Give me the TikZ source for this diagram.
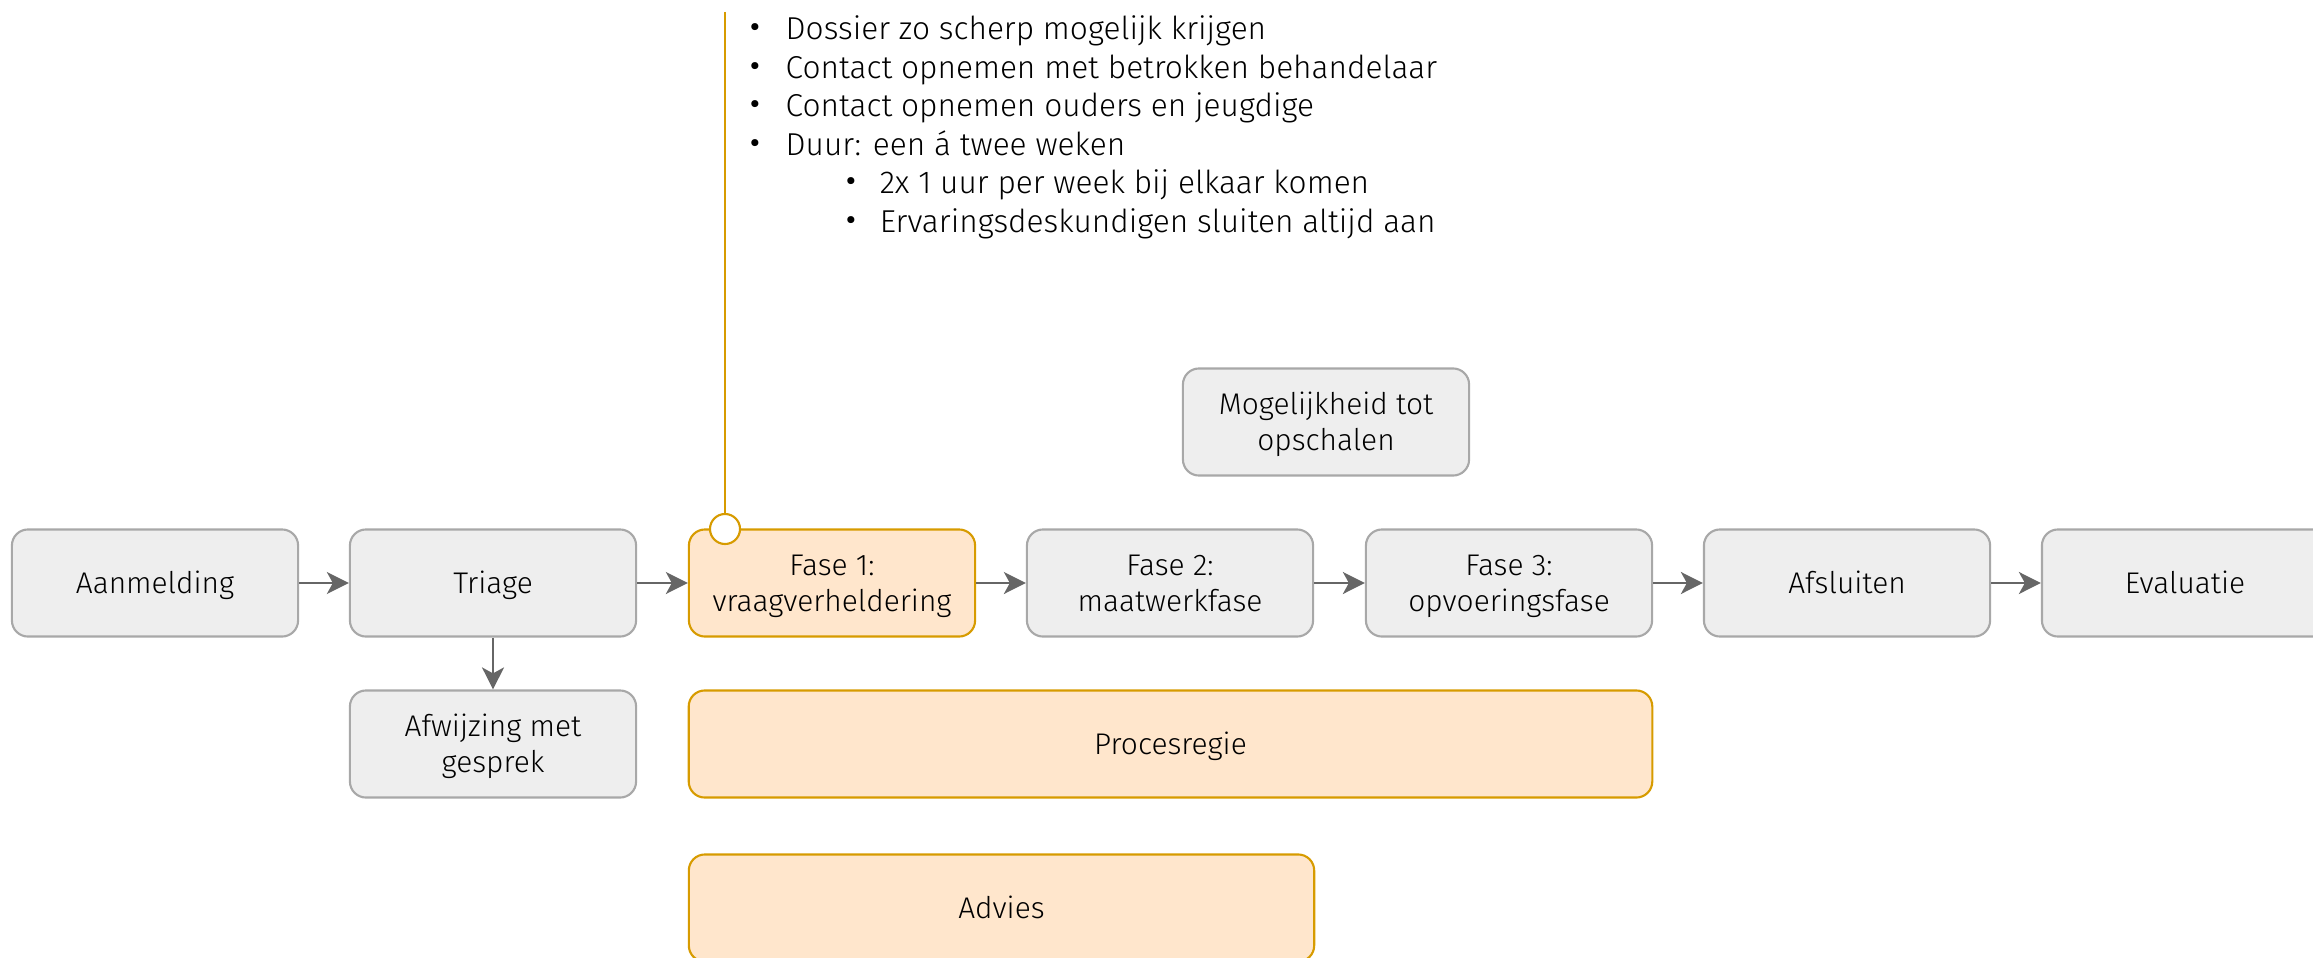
\documentclass[tikz,border=0pt]{standalone}
\usepackage{fontspec}
\usepackage{graphicx}
\setmainfont{Fira Sans}[UprightFont=* Light]
\usetikzlibrary{arrows.meta}
\definecolor{gfill}{HTML}{EEEEEE}
\definecolor{gline}{HTML}{A8A8A8}
\definecolor{ofill}{HTML}{FFE6CC}
\definecolor{oline}{HTML}{D79B00}
\definecolor{arr}{HTML}{666666}
\newcommand{\twol}[2]{\begin{tabular}[b]{@{}c@{}}#1\\#2\end{tabular}}
\newcommand{\bul}{\raisebox{-1.1pt}[0pt][0pt]{\scalebox{1.5}{\textbullet}}}
\tikzset{
  box/.style={rounded corners=0.16cm, line width=0.6pt, minimum width=2.86cm,
    minimum height=1.07cm, inner sep=0pt,
    font=\fontsize{8.5}{10.2}\selectfont, text height=6.2pt, text depth=0pt},
  twobox/.style={text height=16.4pt, text depth=0pt},
  greybox/.style={box, draw=gline, fill=gfill},
  orangebox/.style={box, draw=oline, fill=ofill},
  flow/.style={draw=arr, line width=0.6pt,
    -{Stealth[length=0.22cm, width=0.22cm, inset=0.06cm]}},
}
\begin{document}
\begin{tikzpicture}[x=0.01cm, y=-0.01cm]
\useasboundingbox (0,0) rectangle (2313,958);
\clip (0,0) rectangle (2313,958);
\node[greybox] (aan) at (155,583) {Aanmelding};
\node[greybox] (tri) at (493,583) {Triage};
\node[orangebox, twobox] (f1) at (832,583) {\twol{Fase 1:}{vraagverheldering}};
\node[greybox, twobox] (f2) at (1170,583) {\twol{Fase 2:}{maatwerkfase}};
\node[greybox, twobox] (f3) at (1509,583) {\twol{Fase 3:}{opvoeringsfase}};
\node[greybox] (afs) at (1847,583) {Afsluiten};
\node[greybox] (eva) at (2185,583) {Evaluatie};
\node[greybox, twobox] (afw) at (493,744) {\twol{Afwijzing met}{gesprek}};
\node[orangebox, minimum width=9.63cm] (proc) at (1170.5,744) {Procesregie};
\node[orangebox, minimum width=6.25cm] (adv) at (1001.5,908) {Advies};
\node[greybox, twobox] (mog) at (1326,422) {\twol{Mogelijkheid tot}{opschalen}};
\draw[flow] (aan) -- (tri);
\draw[flow] (tri) -- (f1);
\draw[flow] (f1) -- (f2);
\draw[flow] (f2) -- (f3);
\draw[flow] (f3) -- (afs);
\draw[flow] (afs) -- (eva);
\draw[flow] (tri) -- (afw);
\node[circle, draw=oline, fill=white, line width=0.6pt, minimum size=0.30cm, inner sep=0pt] (dot) at (725,529) {};
\coordinate (top) at (725,12);
\draw[draw=oline, line width=0.6pt] (top) -- (dot.north);
\node[anchor=base west, inner sep=0pt, font=\fontsize{9}{10.93}\selectfont] (notes) at (748,40)
{\begin{tabular}[t]{@{}l@{}}
\makebox[0.37cm][l]{\bul}Dossier zo scherp mogelijk krijgen\\
\makebox[0.37cm][l]{\bul}Contact opnemen met betrokken behandelaar\\
\makebox[0.37cm][l]{\bul}Contact opnemen ouders en jeugdige\\
\makebox[0.37cm][l]{\bul}Duur: een á twee weken\\
\hspace*{0.96cm}\makebox[0.35cm][l]{\bul}2x 1 uur per week bij elkaar komen\\
\hspace*{0.96cm}\makebox[0.35cm][l]{\bul}Ervaringsdeskundigen sluiten altijd aan
\end{tabular}};
\end{tikzpicture}
\end{document}
